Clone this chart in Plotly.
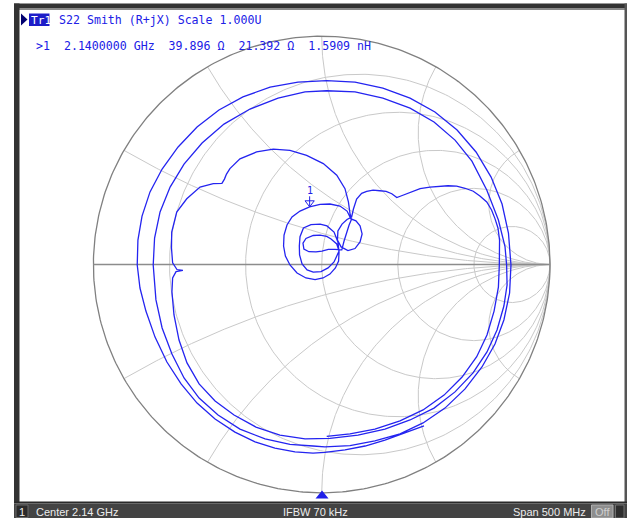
import numpy as np
import plotly.graph_objects as go

# ---------------- data (reflection coefficient) ----------------
outer_loop_re = [0.448, 0.365, 0.277, 0.190, 0.102, 0.014, -0.038, -0.117, -0.205, -0.292, -0.380, -0.467,
                 -0.546, -0.616, -0.678, -0.730, -0.770, -0.796, -0.808, -0.805, -0.787, -0.752, -0.699,
                 -0.629, -0.546, -0.450, -0.345, -0.226, -0.104, 0.022, 0.146, 0.268, 0.387, 0.496, 0.593,
                 0.676, 0.742, 0.790, 0.818, 0.829, 0.823, 0.798, 0.759, 0.702, 0.628, 0.540, 0.444, 0.343,
                 0.233, 0.124, 0.014, -0.038]
outer_loop_im = [-0.707, -0.738, -0.769, -0.795, -0.812, -0.823, -0.826, -0.821, -0.804, -0.777, -0.734,
                 -0.677, -0.607, -0.523, -0.427, -0.318, -0.204, -0.103, -0.002, 0.107, 0.212, 0.318, 0.418,
                 0.515, 0.602, 0.677, 0.734, 0.777, 0.799, 0.805, 0.799, 0.773, 0.729, 0.668, 0.589, 0.493,
                 0.383, 0.265, 0.138, -0.002, -0.125, -0.243, -0.348, -0.449, -0.545, -0.629, -0.694, -0.742,
                 -0.773, -0.793, -0.799, -0.795]

second_loop_re = [-0.139, -0.248, -0.358, -0.454, -0.537, -0.603, -0.656, -0.699, -0.726, -0.738, -0.732,
                  -0.708, -0.664, -0.603, -0.524, -0.428, -0.314, -0.191, -0.073, 0.022, 0.146, 0.268, 0.387,
                  0.492, 0.584, 0.658, 0.723, 0.774, 0.803, 0.810, 0.812, 0.798, 0.768, 0.724, 0.663, 0.584,
                  0.492, 0.387, 0.277, 0.159, 0.036]
second_loop_im = [-0.788, -0.764, -0.721, -0.659, -0.585, -0.497, -0.392, -0.278, -0.155, -0.002, 0.116,
                  0.230, 0.339, 0.440, 0.532, 0.615, 0.681, 0.729, 0.756, 0.761, 0.756, 0.729, 0.685, 0.624,
                  0.545, 0.453, 0.326, 0.195, 0.078, -0.002, -0.090, -0.182, -0.287, -0.383, -0.475, -0.558,
                  -0.629, -0.681, -0.721, -0.747, -0.762]

inner_left_re = [-0.073, -0.183, -0.288, -0.384, -0.467, -0.537, -0.590, -0.625, -0.647, -0.656, -0.653,
                 -0.638, -0.608, -0.634, -0.653, -0.658, -0.657, -0.635, -0.591, -0.533, -0.475, -0.437,
                 -0.426, -0.417, -0.402, -0.358, -0.285, -0.212, -0.139, -0.066, 0.007, 0.066, 0.102, 0.117,
                 0.124, 0.131]
inner_left_im = [-0.764, -0.747, -0.712, -0.659, -0.598, -0.523, -0.431, -0.331, -0.221, -0.120, -0.059,
                 -0.031, -0.026, -0.022, 0.007, 0.072, 0.142, 0.230, 0.288, 0.339, 0.354, 0.355, 0.374, 0.396,
                 0.420, 0.463, 0.493, 0.505, 0.500, 0.478, 0.442, 0.391, 0.332, 0.274, 0.223, 0.194]

marker_loop_re = [0.111, 0.080, 0.036, -0.007, -0.053, -0.095, -0.130, -0.152, -0.165, -0.167, -0.159,
                  -0.139, -0.108, -0.069, -0.029, 0.006, 0.036, 0.060, 0.074]
marker_loop_im = [0.234, 0.256, 0.265, 0.263, 0.252, 0.234, 0.208, 0.173, 0.129, 0.081, 0.037, -0.002,
                  -0.037, -0.059, -0.066, -0.059, -0.042, -0.015, 0.015]

inner_loops_re = [0.076, 0.071, 0.054, 0.023, -0.007, -0.047, -0.080, -0.095, -0.098, -0.097, -0.086,
                  -0.064, -0.037, -0.003, 0.028, 0.054, 0.067,
                  0.076, 0.066, 0.041, 0.022, -0.007, -0.037, -0.069, -0.082, -0.078, -0.056, -0.025, 0.001,
                  0.029, 0.058, 0.088, 0.098, 0.109, 0.120, 0.131]
inner_loops_im = [0.055, 0.099, 0.142, 0.169, 0.177, 0.175, 0.160, 0.122, 0.081, 0.042, 0.002, -0.024,
                  -0.033, -0.031, -0.015, 0.011, 0.037,
                  0.059, 0.090, 0.112, 0.123, 0.129, 0.127, 0.114, 0.094, 0.068, 0.056, 0.055, 0.059, 0.066,
                  0.066, 0.064, 0.103, 0.142, 0.173, 0.199]

small_loop_re = [0.150, 0.168, 0.177, 0.168, 0.146, 0.115, 0.085, 0.069, 0.071, 0.089, 0.111, 0.131]
small_loop_im = [0.191, 0.169, 0.134, 0.099, 0.070, 0.061, 0.077, 0.107, 0.147, 0.177, 0.197, 0.208]

inner_right_re = [0.139, 0.153, 0.175, 0.197, 0.225, 0.255, 0.282, 0.307, 0.329, 0.347, 0.372, 0.400, 0.431,
                  0.474, 0.518, 0.553, 0.591, 0.628, 0.664, 0.693, 0.723, 0.744, 0.759, 0.772, 0.779, 0.779,
                  0.778, 0.774, 0.755, 0.724, 0.679, 0.615, 0.536, 0.444, 0.343, 0.233, 0.124, 0.022]
inner_right_im = [0.243, 0.287, 0.312, 0.320, 0.326, 0.323, 0.320, 0.310, 0.293, 0.300, 0.310, 0.322, 0.332,
                  0.339, 0.344, 0.345, 0.343, 0.334, 0.321, 0.300, 0.274, 0.239, 0.201, 0.160, 0.107, 0.055,
                  -0.002, -0.099, -0.204, -0.309, -0.404, -0.493, -0.572, -0.637, -0.685, -0.721, -0.742, -0.753]

# marker 1 readout
marker_freq = "2.1400000 GHz"
marker_R_ohm = 39.896
marker_X_ohm = 21.392
marker_L = "1.5909 nH"
Z0 = 50.0

# Smith grid values
resistance_circles = [0.2, 0.5, 1.0, 2.0, 5.0]
reactance_arcs = [0.2679, 0.5774, 1.0, 1.732, 3.732]

header_1 = "S22 Smith (R+jX) Scale 1.000U"
status_center = "Center 2.14 GHz"
status_ifbw = "IFBW 70 kHz"
status_span = "Span 500 MHz"

# ---------------- layout constants ----------------
W, H = 627, 518
CX, CY, RAD = 321.7, 264.5, 228.3  # chart centre / radius in pixels
x_range = [-CX / RAD, (W - CX) / RAD]
y_range = [-(H - CY) / RAD, CY / RAD]


def px(x):
    return x / W


def py(y):
    return 1 - y / H


blue = "#2020e6"
trace_blue = "#2424f0"
grid_col = "#c9c9c9"
rim_col = "#808080"

fig = go.Figure()


def add_line(xs, ys, color, width):
    fig.add_trace(go.Scatter(x=xs, y=ys, mode="lines", line=dict(color=color, width=width),
                             hoverinfo="skip", showlegend=False))


# resistance circles
t = np.linspace(0, 2 * np.pi, 400)
for r in resistance_circles:
    c, rr = r / (1 + r), 1 / (1 + r)
    add_line(c + rr * np.cos(t), rr * np.sin(t), grid_col, 1)

# reactance arcs
rs = np.concatenate([np.linspace(0, 1, 150), np.logspace(0, 4, 300)])
for xv in reactance_arcs:
    for s in (1, -1):
        g = (rs + 1j * s * xv - 1) / (rs + 1j * s * xv + 1)
        add_line(g.real, g.imag, grid_col, 1)

# outer rim and real axis
add_line(np.cos(t), np.sin(t), rim_col, 1.3)
add_line([-1, 1], [0, 0], "#8c8c8c", 1.5)

# measured trace
tr_re = (outer_loop_re + second_loop_re + inner_left_re + marker_loop_re + inner_loops_re
         + small_loop_re + inner_right_re)
tr_im = (outer_loop_im + second_loop_im + inner_left_im + marker_loop_im + inner_loops_im
         + small_loop_im + inner_right_im)
assert len(tr_re) == len(tr_im)
add_line(tr_re, tr_im, trace_blue, 1.3)

# marker 1
z = complex(marker_R_ohm, marker_X_ohm) / Z0
gm = (z - 1) / (z + 1)
off = 1 / RAD
fig.add_trace(go.Scatter(x=[gm.real], y=[gm.imag + 4.5 * off], mode="markers",
                         marker=dict(symbol="triangle-down-open", size=8, color=blue,
                                     line=dict(color=blue, width=1)),
                         hoverinfo="skip", showlegend=False))
add_line([gm.real, gm.real], [gm.imag + 1 * off, gm.imag + 11 * off], blue, 1)

annotations = []
annotations.append(dict(x=gm.real, y=gm.imag, xref="x", yref="y", text="1", showarrow=False,
                        yshift=16.5, font=dict(family="DejaVu Sans Mono", size=10, color=blue)))

shapes = []
# frame
dark = "#333333"
shapes.append(dict(type="rect", xref="paper", yref="paper", x0=px(14), x1=px(627), y0=py(8), y1=py(3.5),
                   fillcolor=dark, line_width=0, layer="above"))
shapes.append(dict(type="rect", xref="paper", yref="paper", x0=px(14), x1=px(627), y0=py(10), y1=py(8),
                   fillcolor="#8a8a8a", line_width=0, layer="above"))
shapes.append(dict(type="rect", xref="paper", yref="paper", x0=px(14), x1=px(19.5), y0=py(503), y1=py(3.5),
                   fillcolor=dark, line_width=0, layer="above"))
shapes.append(dict(type="rect", xref="paper", yref="paper", x0=px(624.5), x1=px(627), y0=py(503), y1=py(3.5),
                   fillcolor="#555555", line_width=0, layer="above"))
shapes.append(dict(type="rect", xref="paper", yref="paper", x0=px(14), x1=px(627), y0=py(503.5), y1=py(501.5),
                   fillcolor="#2a2a2a", line_width=0, layer="above"))
# status bar
shapes.append(dict(type="rect", xref="paper", yref="paper", x0=px(14), x1=px(627), y0=py(518), y1=py(503.5),
                   fillcolor="#434343", line_width=0, layer="above"))
shapes.append(dict(type="rect", xref="paper", yref="paper", x0=px(16), x1=px(28), y0=py(517.5), y1=py(505),
                   fillcolor="#2b2b2b", line=dict(color="#6a6a6a", width=1), layer="above"))
shapes.append(dict(type="rect", xref="paper", yref="paper", x0=px(591.5), x1=px(613), y0=py(518), y1=py(505),
                   fillcolor="#8e8e8e", line=dict(color="#b0b0b0", width=1), layer="above"))
shapes.append(dict(type="rect", xref="paper", yref="paper", x0=px(615.5), x1=px(624), y0=py(518), y1=py(505),
                   fillcolor="#2e2e2e", line=dict(color="#707070", width=1), layer="above"))
# header tab
shapes.append(dict(type="path", xref="paper", yref="paper",
                   path=f"M {px(21)} {py(13.5)} L {px(27.5)} {py(19.5)} L {px(21)} {py(25.5)} Z",
                   fillcolor="#000070", line_width=0, layer="above"))
shapes.append(dict(type="rect", xref="paper", yref="paper", x0=px(29), x1=px(49.5), y0=py(26), y1=py(13.5),
                   fillcolor="#1c1cc8", line_width=0, layer="above"))
# stimulus position marker
shapes.append(dict(type="path", xref="paper", yref="paper",
                   path=f"M {px(315.5)} {py(498.5)} L {px(328.5)} {py(498.5)} L {px(322)} {py(490.5)} Z",
                   fillcolor="#1f1fe8", line_width=0, layer="above"))

mono = "DejaVu Sans Mono"
nb = "\u00a0"


def ann(x, y, text, size, color, family, xanchor="left"):
    annotations.append(dict(x=px(x), y=py(y), xref="paper", yref="paper", text=text.replace(" ", nb),
                            showarrow=False, xanchor=xanchor, yanchor="middle", borderpad=0,
                            font=dict(family=family, size=size, color=color)))


ann(29.5, 20, "Tr1", 11.2, "white", mono)
ann(57.5, 20, header_1, 11.6, blue, mono)
line2 = f">1  {marker_freq}  {marker_R_ohm:.3f} Ω  {marker_X_ohm:.3f} Ω  {marker_L}"
ann(34.5, 46, line2, 11.6, blue, mono)

sans = "Liberation Sans"
ann(22, 511.5, "1", 11, "#f0f0f0", sans, "center")
ann(34.5, 511.5, status_center, 11, "#ececec", sans)
ann(281.5, 511.5, status_ifbw, 11, "#ececec", sans)
ann(586.5, 511.5, status_span, 11, "#ececec", sans, "right")
ann(602.3, 511.5, "Off", 11, "#cfcfcf", sans, "center")

fig.update_layout(
    width=W, height=H, autosize=False,
    margin=dict(l=0, r=0, t=0, b=0, pad=0),
    paper_bgcolor="white", plot_bgcolor="white",
    xaxis=dict(range=x_range, visible=False, fixedrange=True),
    yaxis=dict(range=y_range, visible=False, fixedrange=True),
    shapes=shapes, annotations=annotations, showlegend=False,
)

fig.write_html("out.html", config={"displayModeBar": False},
               post_script="document.body.style.margin='0';document.body.style.overflow='hidden';")
